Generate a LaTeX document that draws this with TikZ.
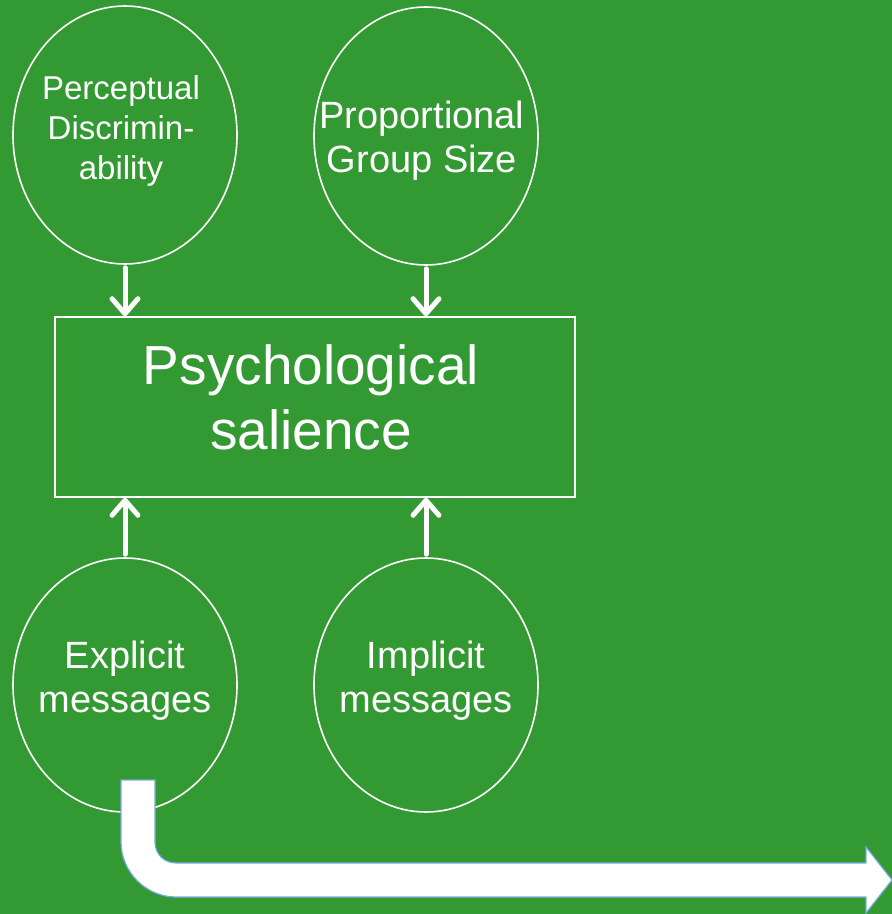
\documentclass[tikz,border=0pt]{standalone}
\usepackage{fontspec}
\setmainfont{Liberation Sans}
\usetikzlibrary{shapes.geometric}
\usetikzlibrary{arrows.meta}
\usetikzlibrary{calc}
\definecolor{slidegreen}{RGB}{51,153,51}
\definecolor{edgeblue}{RGB}{120,170,225}
\tikzstyle{factor}=[ellipse,draw=white,line width=1.6pt,minimum width=224pt,minimum height=258pt,inner sep=0pt]
\tikzstyle{factortext}=[text=white,align=center,font=\fontsize{38}{44}\selectfont]
\tikzstyle{salbox}=[rectangle,draw=white,line width=1.6pt,minimum width=520pt,minimum height=180pt,inner sep=0pt]
\tikzstyle{influence}=[draw=white,line width=5pt,line cap=round,-{Straight Barb[round,length=15pt,width=26pt]}]
\tikzstyle{bigarrow}=[fill=white,draw=edgeblue,line width=1.2pt]

\begin{document}
\begin{tikzpicture}[x=1pt,y=-1pt]

   \fill[slidegreen] (0,0) rectangle (892,914);
   \useasboundingbox (0,0) rectangle (892,914);

   % top factors
   \node[factor,label={[factortext,font=\fontsize{33}{40}\selectfont,xshift=-4pt,yshift=4pt]center:{Perceptual\\Discrimin-\\ability}}] (perc) at (125,135) {};
   \node[factor,label={[factortext,xshift=-4pt,yshift=-5pt]center:{Proportional\\Group Size}}] (prop) at (426,136) {};

   % centre box
   \node[salbox,label={[factortext,font=\fontsize{55}{65}\selectfont,xshift=-4pt,yshift=10pt]center:{Psychological\\salience}}] (sal) at (315,407) {};

   % bottom factors
   \node[factor,minimum height=254pt,label={[factortext,yshift=4pt]center:{Explicit\\messages}}] (expl) at (125,685) {};
   \node[factor,minimum height=254pt,label={[factortext,yshift=4pt]center:{Implicit\\messages}}] (impl) at (426,685) {};

   \foreach \source/\dest in {perc/sal, prop/sal}
        \draw[influence,shorten <=3pt] (\source.south) -- (\source.south |- \dest.north);
   \foreach \source/\dest in {expl/sal, impl/sal}
        \draw[influence,shorten <=3pt] (\source.north) -- (\source.north |- \dest.south);

   % bent arrow out of explicit messages
   \draw[bigarrow] (121,780) -- (121,842) .. controls (121,872) and (146,897) .. (176,897)
        -- (866,897) -- (866,913) -- (892,880) -- (866,847) -- (866,863) -- (176,863)
        .. controls (164,863) and (155,854) .. (155,842) -- (155,780) -- cycle;

\end{tikzpicture}
\end{document}
